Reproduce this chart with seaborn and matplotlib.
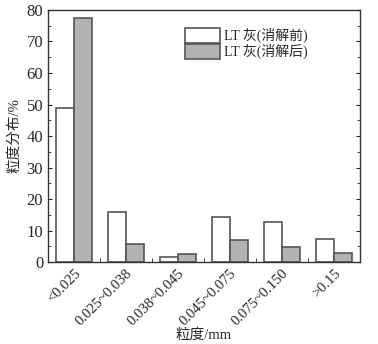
import matplotlib
matplotlib.use("Agg")
import matplotlib.pyplot as plt
import seaborn as sns
import pandas as pd
from matplotlib.ticker import MultipleLocator, FixedLocator

categories = ["<0.025", "0.025~0.038", "0.038~0.045", "0.045~0.075", "0.075~0.150", ">0.15"]
before = [49.0, 15.8, 1.5, 14.2, 12.6, 7.2]
after = [77.5, 5.6, 2.5, 6.9, 4.9, 2.9]
series = ["LT 灰(消解前)", "LT 灰(消解后)"]

records = []
for c, b, a in zip(categories, before, after):
    records.append({"size": c, "value": b, "group": series[0]})
    records.append({"size": c, "value": a, "group": series[1]})
df = pd.DataFrame(records)

sns.set_style("ticks")
plt.rcParams["font.family"] = ["Liberation Serif", "Noto Sans CJK SC"]

fig = plt.figure(figsize=(3.78, 3.44), dpi=100)
ax = fig.add_axes([0.127, 0.238, 0.825, 0.733])

sns.barplot(data=df, x="size", y="value", hue="group", palette=["white", "#b3b3b3"],
            width=0.7, edgecolor="#555555", linewidth=1.2, ax=ax)

ax.set_xlim(-0.5, 5.5)
ax.set_ylim(0, 80)
ax.yaxis.set_major_locator(MultipleLocator(10))
ax.yaxis.set_minor_locator(MultipleLocator(5))
ax.xaxis.set_minor_locator(FixedLocator([0.5, 1.5, 2.5, 3.5, 4.5]))
ax.tick_params(axis="y", which="both", direction="in", right=True, labelsize=12, length=3)
ax.tick_params(axis="y", which="minor", length=2)
ax.tick_params(axis="x", which="both", direction="in", length=3, labelsize=10.5)
for s in ax.spines.values():
    s.set_linewidth(1.0)
    s.set_color("#333333")
ax.set_xticks(range(len(categories)))
ax.set_xticklabels(categories, rotation=45, ha="right", rotation_mode="anchor")
ax.set_xlabel("粒度/mm", fontsize=10.5, labelpad=0)
ax.set_ylabel("粒度分布/%", fontsize=10.5)

ax.legend(loc="upper left", bbox_to_anchor=(0.4, 0.98), frameon=False, fontsize=10,
          handlelength=2.5, handleheight=1.3, handletextpad=0.3, labelspacing=0.05)

fig.savefig("out.png", dpi=100)
